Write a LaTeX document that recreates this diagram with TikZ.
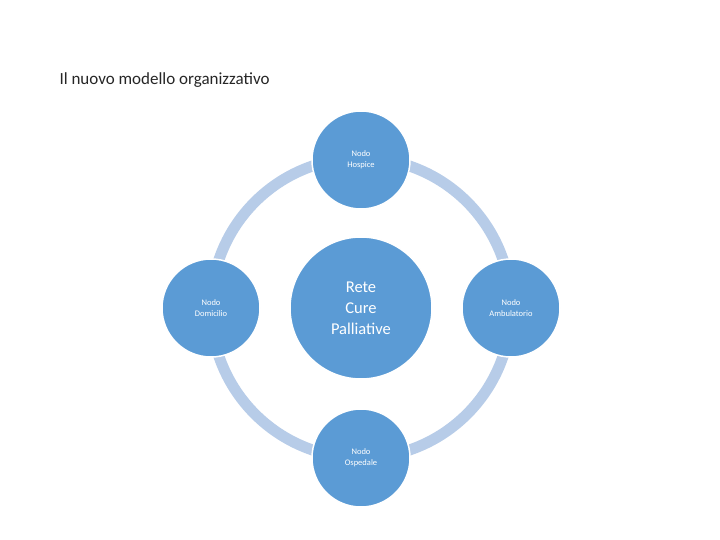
\documentclass[tikz,border=0pt]{standalone}
\usepackage{fontspec}
\setmainfont{Carlito}
\definecolor{nodeblue}{RGB}{91,155,213}
\definecolor{ringblue}{RGB}{183,204,232}
\begin{document}
\begin{tikzpicture}[x=1pt,y=-1pt,
  sat/.style={circle,fill=nodeblue,draw=white,line width=1.5pt,minimum size=98pt,inner sep=0pt,align=center,text=white,font=\fontsize{8.5}{11}\selectfont},
  hub/.style={circle,fill=nodeblue,draw=white,line width=1.5pt,minimum size=142pt,inner sep=0pt,align=center,text=white,font=\fontsize{16.5}{21}\selectfont}]
\useasboundingbox (0,0) rectangle (720,540);
\fill[white] (0,0) rectangle (720,540);
\node[anchor=west,font=\fontsize{17}{20}\selectfont,text=black!85] (title) at (56,80) {Il nuovo modello organizzativo};
\coordinate (c) at (361,308);
\draw[ringblue,line width=11pt] (c) circle[radius=150];
\node[hub] (hub) at (c) {Rete\\Cure\\Palliative};
\node[sat] (top) at (361,160) {Nodo\\Hospice};
\node[sat] (left) at (211,308) {Nodo\\Domicilio};
\node[sat] (right) at (511,308) {Nodo\\Ambulatorio};
\node[sat] (bottom) at (361,458) {Nodo\\Ospedale};
\end{tikzpicture}
\end{document}
